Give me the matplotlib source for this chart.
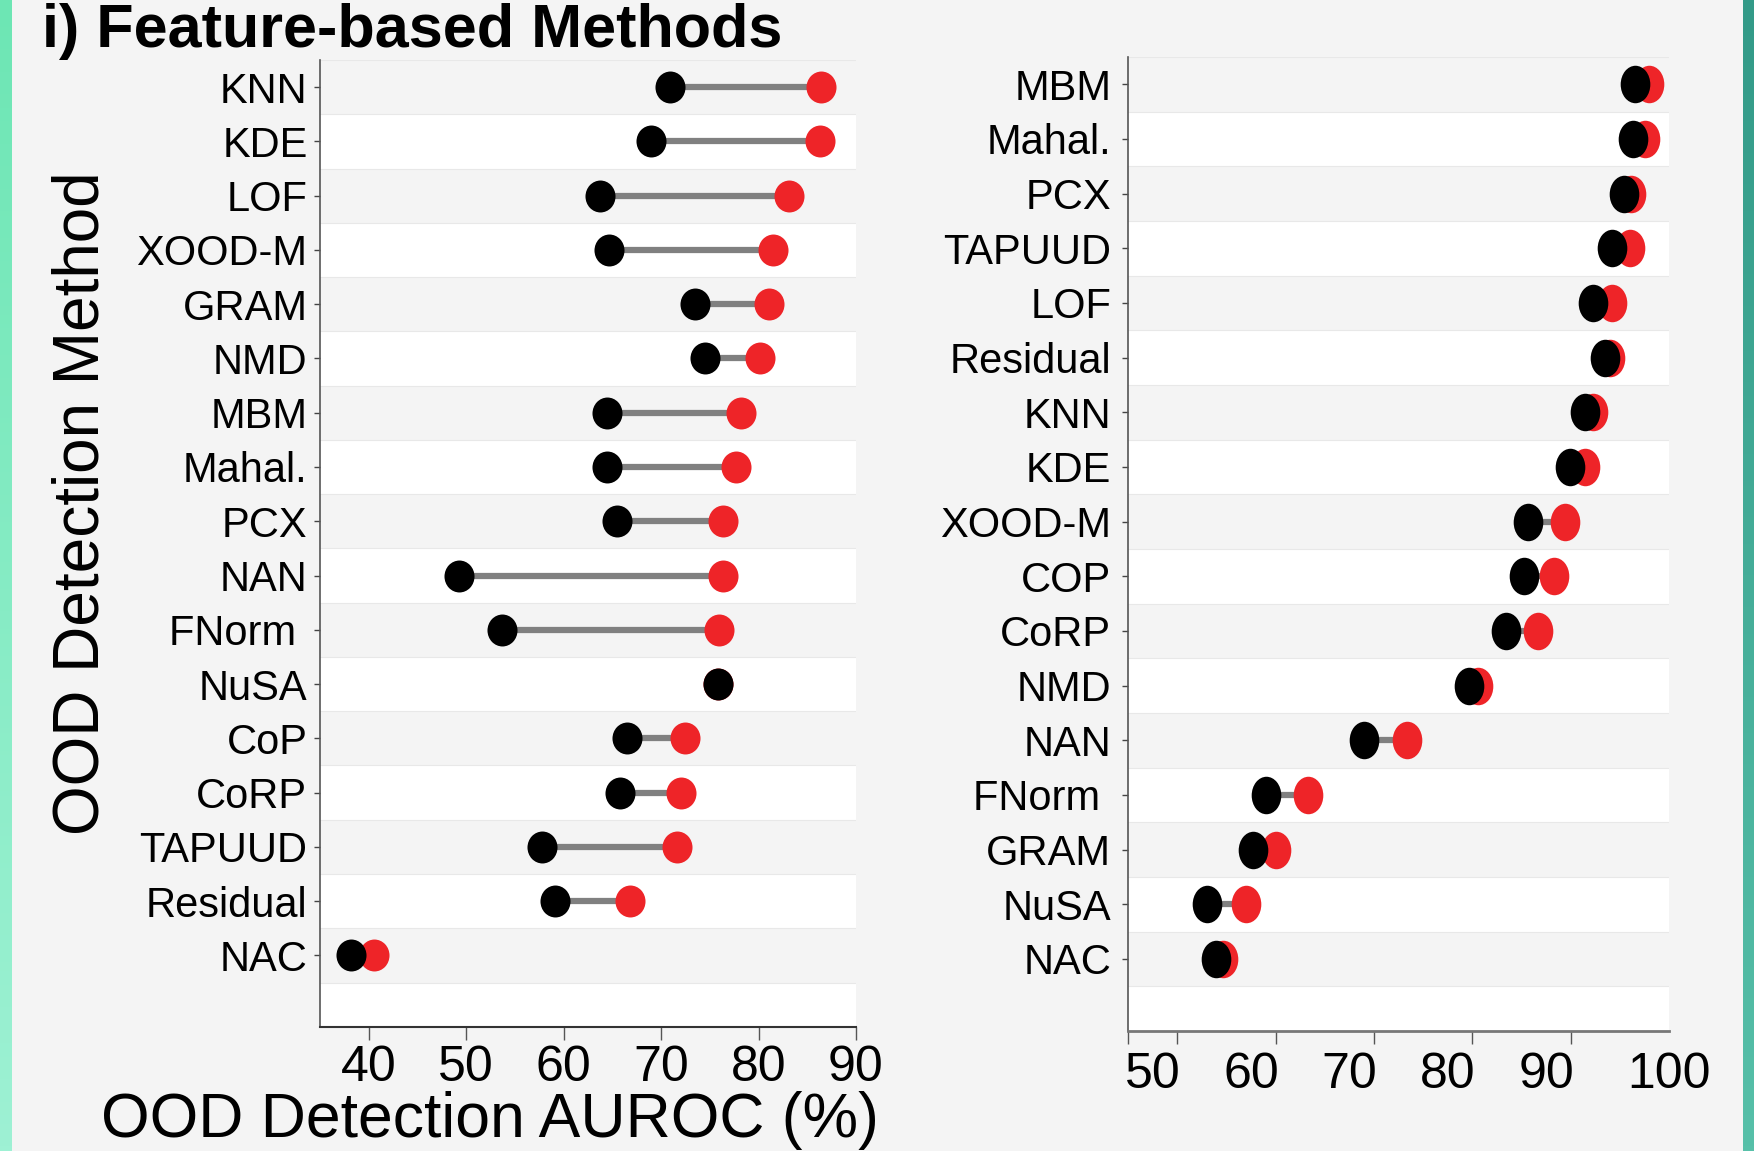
import numpy as np
import matplotlib
matplotlib.use('Agg')
from matplotlib import pyplot as plt
from matplotlib.path import Path
from matplotlib.transforms import Affine2D
from matplotlib.colors import LinearSegmentedColormap

plt.rcParams['font.family'] = ['Liberation Sans', 'DejaVu Sans']

# left panel (top to bottom)
left_methods = ['KNN', 'KDE', 'LOF', 'XOOD-M', 'GRAM', 'NMD', 'MBM', 'Mahal.', 'PCX',
                'NAN', 'FNorm ', 'NuSA', 'CoP', 'CoRP', 'TAPUUD', 'Residual', 'NAC']
left_black = [70.9, 69.0, 63.7, 64.7, 73.5, 74.5, 64.5, 64.4, 65.5,
              49.3, 53.7, 75.8, 66.5, 65.8, 57.8, 59.1, 38.2]
left_red = [86.4, 86.3, 83.1, 81.5, 81.1, 80.1, 78.2, 77.7, 76.4,
            76.4, 75.9, 75.8, 72.5, 72.0, 71.6, 66.8, 40.5]

# right panel (top to bottom)
right_methods = ['MBM', 'Mahal.', 'PCX', 'TAPUUD', 'LOF', 'Residual', 'KNN', 'KDE', 'XOOD-M',
                 'COP', 'CoRP', 'NMD', 'NAN', 'FNorm ', 'GRAM', 'NuSA', 'NAC']
right_black = [96.5, 96.3, 95.4, 94.2, 92.3, 93.5, 91.5, 89.9, 85.7,
               85.3, 83.4, 79.7, 69.0, 59.0, 57.7, 53.0, 53.9]
right_red = [98.0, 97.6, 96.1, 96.0, 94.2, 94.0, 92.3, 91.5, 89.4,
             88.3, 86.7, 80.6, 73.4, 63.3, 60.0, 57.0, 54.7]

left_ticks = [40, 50, 60, 70, 80, 90]
right_ticks = [45, 50, 60, 70, 80, 90, 100]
right_ticklabel_pos = [47.5, 57.5, 67.5, 77.5, 87.5, 100]
right_ticklabels = ['50', '60', '70', '80', '90', '100']

W, H = 1754, 1151
fig = plt.figure(figsize=(W / 100, H / 100), dpi=100, facecolor='#f4f4f4')

# coloured border stripes
def stripe(x0, w, c_top, c_bot):
    a = fig.add_axes([x0 / W, 0, w / W, 1])
    cmap = LinearSegmentedColormap.from_list('s', [c_top, c_bot])
    a.imshow(np.linspace(0, 1, 256).reshape(-1, 1), aspect='auto', cmap=cmap)
    a.set_axis_off()

stripe(0, 12, '#6de6b4', '#9ef1d4')
stripe(1743, 11, '#339a88', '#57c0a9')

red = '#ee2428'


def ellipse(ratio):
    return Path.unit_circle().transformed(Affine2D().scale(ratio, 1.0))


def panel(rect, methods, black, red_vals, xlim, ratio, msize, ypad):
    ax = fig.add_axes(rect)
    ax.set_facecolor('#f4f4f4')
    n = len(methods)
    y = np.arange(n)
    for i in range(n + 1):
        if i % 2 == 1:
            ax.axhspan(i - 0.5, i + 0.5, color='white', zorder=0, lw=0)
        ax.axhline(i - 0.5, color='#e8e8e8', lw=0.8, zorder=0.5)
    ax.hlines(y, black, red_vals, color='#808080', lw=4.5, zorder=2)
    mk = ellipse(ratio)
    ax.plot(red_vals, y, ls='none', marker=mk, ms=msize, color=red, mec='none', zorder=3)
    ax.plot(black, y, ls='none', marker=mk, ms=msize, color='black', mec='none', zorder=4)
    ax.set_xlim(*xlim)
    ax.set_ylim(17.32, -0.5)
    ax.set_yticks(y)
    ax.set_yticklabels(methods, fontsize=30)
    ax.tick_params(axis='y', length=4, width=1, color='#444444', pad=ypad)
    for s in ['top', 'right']:
        ax.spines[s].set_visible(False)
    ax.spines['left'].set_color('#555555')
    ax.spines['left'].set_linewidth(1.2)
    ax.spines['bottom'].set_color('#333333')
    ax.spines['bottom'].set_linewidth(1.5)
    return ax


axl = panel([320 / W, 1 - 1027 / H, 536 / W, 967 / H], left_methods, left_black, left_red,
            (35, 90), 0.94, 23, 5)
axl.set_xticks(left_ticks)
axl.set_xticklabels([str(t) for t in left_ticks], fontsize=36)
axl.tick_params(axis='x', length=9, width=1, color='#555555', pad=4)

axr = panel([1128 / W, 1 - 1031 / H, 541 / W, 974 / H], right_methods, right_black, right_red,
            (45, 100), 0.79, 27, 8)
axr.set_xticks(right_ticks, minor=True)
axr.set_xticks(right_ticklabel_pos)
axr.set_xticklabels(right_ticklabels, fontsize=36)
axr.tick_params(axis='x', which='major', length=0, pad=15)
axr.tick_params(axis='x', which='minor', length=9, width=1, color='#555555')
axr.spines['bottom'].set_color('#777777')
axr.spines['bottom'].set_linewidth(2)

fig.text(42 / W, 1 - 47 / H, 'i) Feature-based Methods', fontsize=44, fontweight='bold',
         ha='left', va='baseline')
fig.text(82 / W, 1 - 503 / H, 'OOD Detection Method', fontsize=46, rotation=90,
         ha='center', va='center')
fig.text(490 / W, 1 - 1120 / H, 'OOD Detection AUROC (%)', fontsize=45,
         ha='center', va='center')

fig.savefig('out.png', dpi=100, facecolor=fig.get_facecolor())
